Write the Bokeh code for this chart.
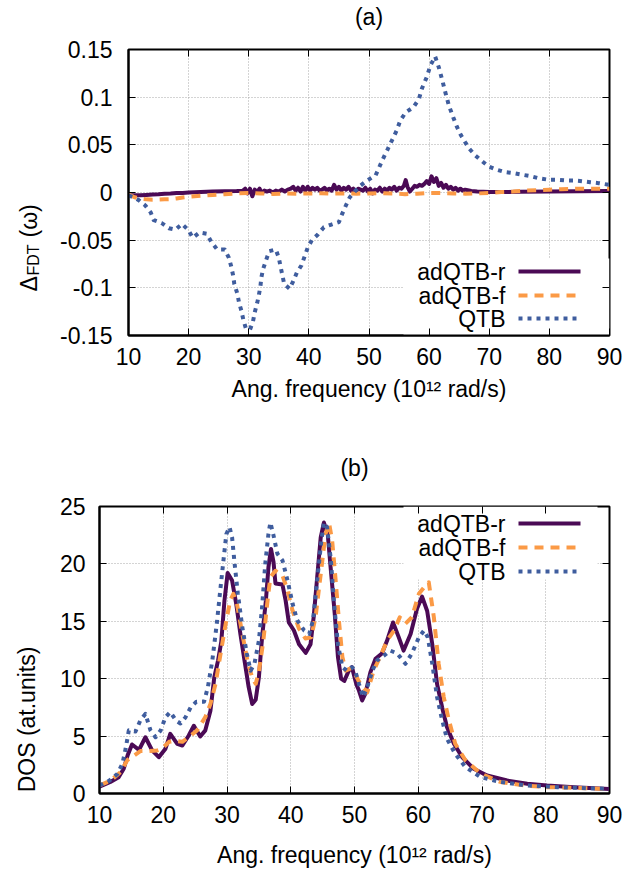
from math import pi
from bokeh.plotting import figure
from bokeh.layouts import column, row
from bokeh.models import Range1d, FixedTicker, Label, Arrow, BoxAnnotation, LinearAxis
from bokeh.core.properties import value
from bokeh.embed import file_html
from bokeh.resources import INLINE

FONT = "Liberation Sans"
FS = "23px"

# ---------------- data: panel (a) ----------------
x_ticks = [10, 20, 30, 40, 50, 60, 70, 80, 90]
ya_ticks = [-0.15, -0.1, -0.05, 0, 0.05, 0.1, 0.15]
ya_labels = ["-0.15", "-0.1", "-0.05", "0", "0.05", "0.1", "0.15"]
yb_ticks = [0, 5, 10, 15, 20, 25]

series_names = ["adQTB-r", "adQTB-f", "QTB"]

xa_r = [10, 11, 12, 13, 14, 15, 16, 17, 18, 19, 20, 22, 24, 26, 28, 29,
        29.4, 29.8, 30.2, 30.6, 31.0, 31.4, 31.8, 32.2, 32.6, 33.0,
        33.5, 34.0, 34.5, 35.0, 35.5, 36.0, 36.5, 37.0,
        37.4, 37.8, 38.2, 38.6, 39.0, 39.4, 39.8, 40.2, 40.6, 41.0,
        41.4, 41.8, 42.2, 42.6, 43.0, 43.4, 43.8, 44.2, 44.6, 45.0,
        45.4, 45.8, 46.2, 46.6, 47.0, 47.4, 47.8, 48.2, 48.6, 49.0,
        49.4, 49.8, 50.2, 50.6, 51.0, 51.4, 51.8, 52.2, 52.6, 53.0,
        53.4, 53.8, 54.2, 54.6, 55.0, 55.4, 55.8,
        56.1, 56.4,
        56.8, 57.2, 57.6, 58.0, 58.4, 58.8, 59.2, 59.6, 60.0, 60.4,
        60.8, 61.2, 61.6, 62.0, 62.4, 62.8, 63.2, 63.6, 64.0, 64.4,
        64.8, 65.2, 65.6, 66.0,
        67, 68, 70, 72, 75, 80, 85, 90]
ya_r = [-0.003, -0.003, -0.003, -0.0025, -0.002, -0.0018, -0.0012, -0.001, -0.0006, -0.0004, 0.0,
        0.0005, 0.001, 0.0012, 0.0015, 0.0018,
        0.004, -0.001, 0.004, -0.004, 0.003, 0.0005, 0.004, -0.0005, 0.002, 0.001,
        0.002, 0.0, 0.002, 0.001, 0.003, 0.001, 0.003, 0.004,
        0.006, 0.002, 0.005, 0.001, 0.006, 0.002, 0.006, 0.002, 0.005, 0.003,
        0.005, 0.002, 0.003, 0.005, 0.002, 0.004, 0.002, 0.008, 0.003, 0.006,
        0.002, 0.005, 0.003, 0.006, 0.002, 0.004, 0.001, 0.004, 0.003, 0.002,
        0.005, 0.001, 0.004, -0.001, 0.003, 0.002, 0.005, 0.001, 0.004, 0.002,
        0.005, 0.003, 0.006, 0.002, 0.005, 0.004, 0.007,
        0.013, 0.006,
        0.001, 0.004, 0.007, 0.006, 0.008, 0.007, 0.009, 0.012, 0.009, 0.017,
        0.011, 0.015, 0.007, 0.01, 0.005, 0.008, 0.004, 0.006, 0.003, 0.005,
        0.002, 0.004, 0.002, 0.003,
        0.0015, 0.001, 0.0005, 0.0005, 0.0008, 0.001, 0.0012, 0.0015]

xa_f = [10, 11, 12, 13, 14, 15, 16, 17, 18, 19, 20, 22, 24, 26, 28, 30, 32, 34, 36, 38,
        40, 42, 44, 46, 48, 50, 52, 54, 56, 58, 60, 62, 64, 66, 68, 70, 72, 74, 76, 78,
        80, 82, 84, 86, 88, 90]
ya_f = [-0.002, -0.005, -0.0065, -0.0072, -0.0075, -0.0075, -0.0072, -0.007, -0.0062, -0.0052,
        -0.0045, -0.0035, -0.0025, -0.0018, -0.001, -0.0005, -0.001, -0.0015, -0.001, -0.0012,
        -0.001, -0.0008, -0.0012, -0.001, -0.0012, -0.001, -0.0008, -0.001, -0.0018, -0.0012,
        -0.0005, -0.0005, -0.001, -0.0012, -0.001, -0.0005, 0.0005, 0.001, 0.002, 0.0025,
        0.003, 0.0035, 0.0038, 0.004, 0.004, 0.004]

xa_q = [10, 10.8, 11.7, 12.8, 13.7, 14.2, 15.5, 16.7, 17.8, 18.9, 19.9, 20.7, 21.8, 23.0, 23.8,
        24.75, 26.0, 26.7, 27.1, 27.4, 27.6, 28.1, 28.4, 28.8, 29.1, 29.5, 30.2, 30.7, 31.0,
        31.4, 31.7, 31.95, 32.1, 32.4, 32.9, 33.4, 34.5, 35.0, 35.3, 35.6, 35.9, 36.8, 37.4,
        38.0, 38.75, 39.3, 39.8, 40.5, 41.5, 42.5, 43.75, 45.0, 45.5, 46.1, 46.8, 47.7, 48.6,
        49.7, 51.1, 51.6, 52.2, 53.0, 53.8, 54.6, 55.2, 56.1, 57.4, 58.3, 58.8, 59.6, 60.2,
        61.0, 61.6, 62.2, 62.7, 63.3, 64.0, 64.65, 65.3, 66.0, 66.7, 67.7, 68.8, 69.9, 71.3,
        72.7, 74.1, 75.5, 76.9, 78.2, 79.9, 81.3, 82.7, 84.0, 85.4, 86.8, 88.2, 90]
ya_q = [-0.003, -0.005, -0.008, -0.0136, -0.021, -0.029, -0.032, -0.0375, -0.039, -0.033,
        -0.039, -0.0475, -0.042, -0.0433, -0.052, -0.0598, -0.0598, -0.0685, -0.078, -0.087,
        -0.096, -0.106, -0.116, -0.1245, -0.1336, -0.142, -0.144, -0.1353, -0.1256, -0.116,
        -0.107, -0.098, -0.089, -0.080, -0.0706, -0.0616, -0.0598, -0.0685, -0.078, -0.087,
        -0.096, -0.101, -0.093, -0.084, -0.0766, -0.067, -0.058, -0.050, -0.044, -0.0364,
        -0.0336, -0.031, -0.023, -0.0144, -0.005, 0.0014, 0.0073, 0.0126, 0.018, 0.025,
        0.0336, 0.044, 0.0545, 0.065, 0.0755, 0.084, 0.0895, 0.098, 0.109, 0.121,
        0.133, 0.1427, 0.1315, 0.1175, 0.105, 0.091, 0.079, 0.0685, 0.06, 0.0527,
        0.0458, 0.0388, 0.0329, 0.0273, 0.0238, 0.0213, 0.0202, 0.0186, 0.0171, 0.015,
        0.0133, 0.0133, 0.0126, 0.0126, 0.0119, 0.0108, 0.0098, 0.008]

# ---------------- data: panel (b) ----------------
xb_r = [10, 11.7, 13.0, 13.8, 14.4, 15.1, 16.2, 17.2, 18.26, 19.3, 20.35, 21.1, 22.2, 23.0,
        24.0, 24.8, 25.8, 26.6, 27.4, 28.0, 28.6, 29.1, 29.6, 30.1, 30.8, 31.45, 32.1, 32.8,
        33.4, 33.95, 34.5, 35.0, 35.5, 36.1, 36.5, 36.9, 37.3, 37.6, 38.7, 39.2, 39.7, 40.5,
        41.3, 42.35, 43.1, 43.6, 44.15, 44.7, 45.2, 45.8, 46.35, 46.9, 47.4, 47.9, 48.4, 49.1,
        49.6, 50.3, 50.7, 51.2, 51.7, 52.5, 53.3, 54.3, 55.1, 56.05, 56.95, 57.7, 58.8, 59.8,
        60.6, 61.4, 62.2, 62.95, 63.75, 64.5, 65.6, 66.9, 68.7, 70.8, 73.95, 77.1, 80.2, 84.4, 90]
yb_r = [0.6, 1.0, 1.42, 2.15, 3.3, 4.27, 3.8, 4.9, 3.75, 3.16, 3.9, 5.2, 4.33, 4.18,
        5.05, 5.9, 4.97, 5.5, 7.2, 10.1, 11.6, 13.2, 16.8, 19.2, 18.55, 16.5, 13.9, 11.4,
        9.26, 7.8, 8.16, 10.1, 13.6, 16.8, 19.7, 21.3, 20.15, 18.3, 18.2, 16.8, 14.9, 14.2,
        13.0, 12.25, 13.0, 15.4, 18.85, 22.3, 23.6, 22.6, 19.1, 15.65, 11.9, 10.0, 9.8, 10.7,
        11.0, 9.5, 8.97, 8.1, 8.7, 10.57, 11.73, 12.2, 13.3, 14.9, 13.6, 12.45, 13.9, 16.1,
        17.15, 15.9, 13.0, 9.55, 7.5, 5.8, 4.33, 3.16, 2.15, 1.57, 1.13, 0.85, 0.7, 0.55, 0.4]

xb_f = [10, 11.7, 13.3, 14.35, 15.4, 16.4, 17.7, 19.05, 19.8, 20.9, 21.9, 23.0, 24.3, 25.3,
        26.6, 27.4, 28.2, 29.0, 29.8, 30.5, 31.0, 31.6, 32.4, 33.2, 33.95, 34.5, 35.0, 35.7,
        36.3, 36.8, 37.6, 38.7, 39.5, 40.3, 41.3, 42.3, 43.2, 43.9, 44.7, 45.45, 46.0, 46.5,
        47.0, 47.6, 48.1, 48.6, 49.4, 49.9, 50.9, 52.0, 53.0, 54.1, 55.1, 56.2, 57.1, 58.0,
        59.0, 60.1, 61.1, 61.65, 62.45, 63.2, 64.0, 64.8, 65.8, 67.4, 69.8, 72.9, 76.6, 80.2,
        84.4, 90]
yb_f = [0.7, 1.1, 1.86, 2.9, 3.3, 3.7, 3.7, 3.75, 3.9, 4.5, 4.6, 4.5, 5.05, 5.5,
        6.65, 7.8, 9.55, 12.2, 14.8, 16.8, 17.4, 16.4, 13.9, 11.6, 10.1, 9.55, 10.6, 13.3,
        16.5, 18.85, 19.4, 19.0, 17.7, 15.9, 14.35, 13.5, 13.6, 15.4, 19.1, 22.6, 23.6, 22.0,
        18.85, 14.8, 11.9, 10.7, 10.9, 10.6, 9.55, 8.8, 10.7, 12.0, 13.3, 14.2, 15.35, 14.8,
        15.35, 17.4, 18.1, 18.4, 15.35, 11.3, 8.4, 6.4, 4.33, 2.9, 1.72, 1.0, 0.7, 0.55,
        0.5, 0.38]

xb_q = [10, 11.5, 12.8, 13.6, 14.1, 14.6, 15.65, 16.4, 17.2, 18.0, 18.8, 19.6, 20.35, 21.1,
        22.0, 22.7, 23.5, 24.3, 25.2, 26.4, 27.0, 27.7, 28.4, 29.0, 29.5, 29.9, 30.4, 30.8,
        31.2, 31.7, 32.4, 33.1, 33.7, 34.3, 35.0, 35.5, 36.0, 36.5, 36.8, 37.25, 37.9, 38.7,
        39.5, 40.3, 41.0, 42.1, 42.9, 43.5, 44.2, 44.8, 45.2, 45.7, 46.3, 46.8, 47.4, 48.1,
        48.8, 49.6, 50.1, 50.7, 51.35, 52.0, 52.8, 53.55, 54.6, 55.6, 56.7, 58.0, 59.0, 60.1,
        60.9, 61.5, 62.2, 62.95, 63.75, 64.5, 65.8, 67.4, 69.8, 72.9, 77.1, 81.8, 90]
yb_q = [0.7, 1.1, 1.7, 2.6, 3.9, 5.5, 5.4, 6.35, 6.94, 5.5, 4.9, 5.5, 6.65, 7.1,
        6.35, 6.1, 6.65, 7.5, 8.0, 8.0, 9.26, 11.6, 14.8, 18.0, 20.6, 22.6, 23.2, 22.3,
        20.0, 17.4, 14.5, 12.2, 10.7, 11.3, 13.3, 16.2, 20.0, 22.6, 23.6, 22.6, 20.9, 20.3,
        18.55, 16.5, 15.1, 14.2, 13.9, 15.1, 18.85, 22.0, 23.6, 23.2, 20.3, 16.5, 13.0, 11.0,
        10.7, 11.0, 10.7, 9.55, 8.4, 9.26, 10.7, 11.6, 12.0, 12.45, 12.2, 11.3, 12.2, 13.6,
        14.2, 13.6, 11.3, 8.4, 6.4, 4.77, 3.46, 2.3, 1.42, 1.0, 0.7, 0.55, 0.4]

# ---------------- styles ----------------
COLORS = ["#4b0a55", "#fb9a46", "#3f5d9e"]
DASHES = ["solid", "9 7", "4 5"]
LW = 4
SIDE_W = 44
ROW_H = 437


def make_fig(title, left, top, fw, fh, bottom, yr, yticks, ylab_standoff, title_standoff, xlab_standoff):
    p = figure(frame_width=fw, frame_height=fh, min_border_left=left, min_border_right=18,
               min_border_top=top, min_border_bottom=bottom,
               x_range=Range1d(10, 90), y_range=Range1d(*yr),
               output_backend="svg", toolbar_location=None)
    p.background_fill_color = "white"
    p.border_fill_color = "white"
    p.outline_line_color = "black"
    p.outline_line_width = 2
    for ax in (p.xaxis[0], p.yaxis[0]):
        ax.major_tick_in = 7
        ax.major_tick_out = 0
        ax.minor_tick_line_color = None
        ax.axis_line_width = 2
        ax.major_label_text_font = FONT
        ax.major_label_text_font_size = FS
        ax.major_label_text_color = "black"
        ax.axis_label_text_font = FONT
        ax.axis_label_text_font_size = FS
        ax.axis_label_text_font_style = "normal"
        ax.axis_label_text_color = "black"
    p.xaxis[0].ticker = FixedTicker(ticks=x_ticks)
    p.yaxis[0].ticker = FixedTicker(ticks=yticks)
    p.xaxis[0].major_label_standoff = 12
    p.yaxis[0].major_label_standoff = ylab_standoff
    p.xaxis[0].axis_label = "Ang. frequency (10\u00b9\u00b2 rad/s)"
    p.xaxis[0].axis_label_standoff = xlab_standoff
    for g, t in ((p.xgrid[0], x_ticks), (p.ygrid[0], yticks)):
        g.ticker = FixedTicker(ticks=t)
        g.grid_line_color = "#a8a8a8"
        g.grid_line_dash = "1 2"
        g.grid_line_width = 1
    # mirrored inward ticks (no tick labels); the top one carries the panel title
    right_ax = LinearAxis(ticker=FixedTicker(ticks=yticks), major_label_overrides={v: "" for v in yticks},
                          major_tick_in=7, major_tick_out=0, minor_tick_line_color=None,
                          axis_line_color=None, major_label_standoff=0)
    p.add_layout(right_ax, "right")
    top_ax = LinearAxis(ticker=FixedTicker(ticks=x_ticks), major_label_overrides={v: "" for v in x_ticks},
                        major_tick_in=7, major_tick_out=0, minor_tick_line_color=None,
                        axis_line_color=None, major_label_standoff=0,
                        axis_label=title, axis_label_standoff=title_standoff,
                        axis_label_text_font=FONT, axis_label_text_font_size=FS,
                        axis_label_text_font_style="normal", axis_label_text_color="black")
    p.add_layout(top_ax, "above")
    return p


def make_side(parts):
    """Narrow strip (pixel coordinates) holding a rotated y-axis title."""
    s = figure(frame_width=SIDE_W, frame_height=ROW_H, min_border=0,
               x_range=Range1d(0, SIDE_W), y_range=Range1d(0, ROW_H),
               x_axis_location=None, y_axis_location=None,
               output_backend="svg", toolbar_location=None)
    s.outline_line_color = None
    s.background_fill_color = "white"
    s.border_fill_color = "white"
    s.grid.visible = False
    for txt, bx, by, fs, align in parts:
        s.text(x=[bx], y=[ROW_H - by], text=[txt], angle=pi / 2, text_align=align,
               text_baseline="alphabetic", text_font=value(FONT), text_font_size=value(fs),
               text_color="black")
    return s


def converters(left, top, fw, fh, yr):
    def dx(px):
        return 10 + (px - left) * 80.0 / fw

    def dy(py):
        return yr[1] - (py - top) * (yr[1] - yr[0]) / fh
    return dx, dy


def add_legend(p, dx, dy, box, rows_py):
    p.add_layout(BoxAnnotation(left=dx(box[0]), right=dx(box[1]), top=dy(box[2]), bottom=dy(box[3]),
                               fill_color="white", fill_alpha=1.0, line_color=None, level="underlay"))
    for name, col, dash, py in zip(series_names, COLORS, DASHES, rows_py):
        p.add_layout(Label(x=dx(505), y=dy(py), text=name, text_align="right", text_baseline="middle",
                           text_font=FONT, text_font_size=FS, text_color="black"))
        p.add_layout(Arrow(end=None, x_start=dx(518), y_start=dy(py), x_end=dx(580), y_end=dy(py),
                           line_color=col, line_width=LW, line_dash=dash))


# ---------------- panel (a) ----------------
YA = (-0.15, 0.15)
p1 = make_fig("(a)", 128 - SIDE_W, 49, 481, 286, 102, YA, ya_ticks, 16, 20, 8)
p1.yaxis[0].major_label_overrides = {t: s for t, s in zip(ya_ticks, ya_labels)}
for xs, ys, col, dash in ((xa_r, ya_r, COLORS[0], DASHES[0]), (xa_f, ya_f, COLORS[1], DASHES[1]),
                          (xa_q, ya_q, COLORS[2], DASHES[2])):
    p1.line(xs, ys, line_color=col, line_width=LW, line_dash=dash, line_join="round")
dxa, dya = converters(128, 49, 481, 286, YA)
add_legend(p1, dxa, dya, (403, 609, 258, 335), (271, 295, 318))
side_a = make_side([("\u0394", 28, 242, FS, "left"), ("FDT", 33, 226, "16px", "left"),
                    ("(\u03c9)", 28, 188, FS, "left")])

# ---------------- panel (b) ----------------
YB = (0, 25)
p2 = make_fig("(b)", 99 - SIDE_W, 69, 510, 287, 81, YB, yb_ticks, 14, 26, 16)
for xs, ys, col, dash in ((xb_r, yb_r, COLORS[0], DASHES[0]), (xb_f, yb_f, COLORS[1], DASHES[1]),
                          (xb_q, yb_q, COLORS[2], DASHES[2])):
    p2.line(xs, ys, line_color=col, line_width=LW, line_dash=dash, line_join="round")
dxb, dyb = converters(99, 506 - 437, 510, 287, YB)
add_legend(p2, dxb, dyb, (403, 597, 506 - 437, 579 - 437), (523 - 437, 547 - 437, 571 - 437))
side_b = make_side([("DOS (at.units)", 26, 650 - 437, FS, "center")])

layout = column(row(side_a, p1), row(side_b, p2))
open("out.html", "w").write(file_html(layout, INLINE))
